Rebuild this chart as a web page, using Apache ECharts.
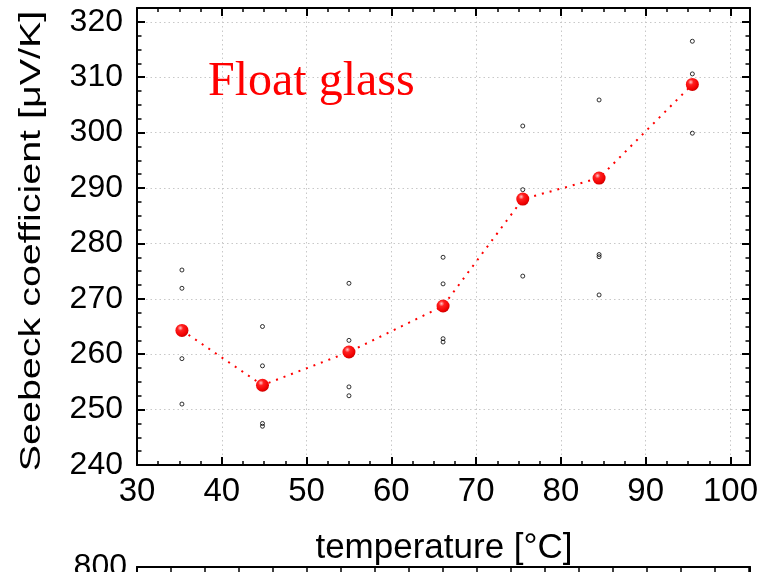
<!DOCTYPE html>
<html><head><meta charset="utf-8">
<script src="https://cdn.jsdelivr.net/npm/echarts@6/dist/echarts.min.js"></script>
<style>html,body{margin:0;padding:0;background:#fff}#c{width:774px;height:572px}</style>
</head><body><div id="c"></div>
<script>
// ---- data ----
const temperatures = [35.3, 44.8, 55.0, 66.1, 75.5, 84.5, 95.5];
const meanSeebeck = [264.3, 254.4, 260.4, 268.7, 288.0, 291.8, 308.7];
const measuredSeebeck = [
  [275.2, 271.9, 259.2, 251.0],
  [265.0, 257.9, 247.5, 247.0],
  [272.8, 262.5, 254.1, 252.5],
  [277.5, 272.7, 262.8, 262.2],
  [301.2, 289.7, 274.1],
  [305.9, 278.0, 277.6, 270.7],
  [316.5, 310.6, 299.9]
];
const xTickLabels = [30, 40, 50, 60, 70, 80, 90, 100];
const yTickLabels = [240, 250, 260, 270, 280, 290, 300, 310, 320];
const lowerYTickLabels = [800];

const SANS = '"Liberation Sans", Arial, sans-serif';
const BLACK = '#000';

const rawPoints = [];
temperatures.forEach((t, i) => measuredSeebeck[i].forEach(v => rawPoints.push([t, v])));
const meanPoints = temperatures.map((t, i) => [t, meanSeebeck[i]]);

const dotted = { color: '#c8c8c8', width: 1, type: [1.5, 3] };
function majorX(pos, showLabel) {
  return {
    type: 'value', gridIndex: 0, position: pos, min: 30, max: 102.3, interval: 10,
    axisLine: { show: true, onZero: false, lineStyle: { color: BLACK, width: 2 } },
    axisTick: { show: true, inside: true, length: 8, lineStyle: { color: BLACK, width: 2 } },
    axisLabel: { show: showLabel, fontSize: 33, color: BLACK, fontFamily: SANS, margin: 10,
      formatter: v => xTickLabels.includes(v) ? String(v) : '' },
    splitLine: { show: showLabel, lineStyle: dotted }
  };
}
function minorX(pos) {
  return {
    type: 'value', gridIndex: 0, position: pos, min: 30, max: 102.3, interval: 2.5,
    axisLine: { show: false, onZero: false },
    axisTick: { show: true, inside: true, length: 4, lineStyle: { color: BLACK, width: 1.5 } },
    axisLabel: { show: false }, splitLine: { show: false }
  };
}
function majorY(pos, showLabel) {
  return {
    type: 'value', gridIndex: 0, position: pos, min: 240, max: 322.5, interval: 10,
    axisLine: { show: true, onZero: false, lineStyle: { color: BLACK, width: 2 } },
    axisTick: { show: true, inside: true, length: 8, lineStyle: { color: BLACK, width: 2 } },
    axisLabel: { show: showLabel, fontSize: 32, color: BLACK, fontFamily: SANS, margin: 14,
      formatter: v => yTickLabels.includes(v) ? String(v) : '' },
    splitLine: { show: showLabel, lineStyle: dotted }
  };
}
function minorY(pos) {
  return {
    type: 'value', gridIndex: 0, position: pos, min: 240, max: 322.5, interval: 2.5,
    axisLine: { show: false, onZero: false },
    axisTick: { show: true, inside: true, length: 4.5, lineStyle: { color: BLACK, width: 1.5 } },
    axisLabel: { show: false }, splitLine: { show: false }
  };
}

const option = {
  animation: false,
  backgroundColor: '#fff',
  grid: [
    { left: 137, top: 8, width: 613, height: 457 },
    { left: 137, top: 567, width: 613, height: 300 }
  ],
  xAxis: [
    majorX('bottom', true), minorX('bottom'), majorX('top', false), minorX('top'),
    { type: 'value', gridIndex: 1, position: 'top', min: 0, max: 18.03, interval: 1,
      axisLine: { show: true, onZero: false, lineStyle: { color: BLACK, width: 2 } },
      axisTick: { show: true, inside: true, length: 8, lineStyle: { color: BLACK, width: 1.5 } },
      axisLabel: { show: false }, splitLine: { show: false } }
  ],
  yAxis: [
    majorY('left', true), minorY('left'), majorY('right', false), minorY('right'),
    { type: 'value', gridIndex: 1, position: 'left', min: 0, max: 800, interval: 100,
      axisLine: { show: true, onZero: false, lineStyle: { color: BLACK, width: 2 } },
      axisTick: { show: true, inside: true, length: 8, lineStyle: { color: BLACK, width: 2 } },
      axisLabel: { show: true, fontSize: 32, color: BLACK, fontFamily: SANS, margin: 10,
        formatter: v => lowerYTickLabels.includes(v) ? String(v) : '' },
      splitLine: { show: false } },
    { type: 'value', gridIndex: 1, position: 'right', min: 0, max: 800, interval: 100,
      axisLine: { show: true, onZero: false, lineStyle: { color: BLACK, width: 2 } },
      axisTick: { show: false }, axisLabel: { show: false }, splitLine: { show: false } }
  ],
  series: [
    {
      type: 'scatter', xAxisIndex: 0, yAxisIndex: 0, data: rawPoints,
      symbol: 'circle', symbolSize: 4,
      itemStyle: { color: 'rgba(0,0,0,0)', borderColor: BLACK, borderWidth: 1 },
      z: 3
    },
    {
      type: 'line', xAxisIndex: 0, yAxisIndex: 0, data: meanPoints,
      symbol: 'circle', symbolSize: 13, showSymbol: true,
      lineStyle: { color: '#ff0000', width: 2, type: [2, 6] },
      itemStyle: {
        color: { type: 'radial', x: 0.38, y: 0.32, r: 0.7,
          colorStops: [
            { offset: 0, color: '#ffc8c8' },
            { offset: 0.3, color: '#ff2020' },
            { offset: 0.8, color: '#f00000' },
            { offset: 1, color: '#c80000' }
          ] },
        borderWidth: 0
      },
      z: 4
    }
  ],
  graphic: [
    { type: 'text', x: 208, y: 82, z: 10,
      style: { text: 'Float glass', fill: '#ff0000', font: '48px "Liberation Serif", "Times New Roman", serif',
        align: 'left', verticalAlign: 'middle', textAlign: 'left', textVerticalAlign: 'middle' } },
    { type: 'text', x: 32, y: 241, rotation: Math.PI / 2, scaleX: 1.36, scaleY: 1, z: 10,
      style: { text: 'Seebeck coefficient [μV/K]', fill: BLACK, font: '29px ' + SANS,
        align: 'center', verticalAlign: 'middle', textAlign: 'center', textVerticalAlign: 'middle' } },
    { type: 'text', x: 444, y: 548, z: 10,
      style: { text: 'temperature [°C]', fill: BLACK, font: '35px ' + SANS,
        align: 'center', verticalAlign: 'middle', textAlign: 'center', textVerticalAlign: 'middle' } }
  ]
};
const chart = echarts.init(document.getElementById('c'), null, { renderer: 'canvas' });
chart.setOption(option);
</script>
</body></html>
